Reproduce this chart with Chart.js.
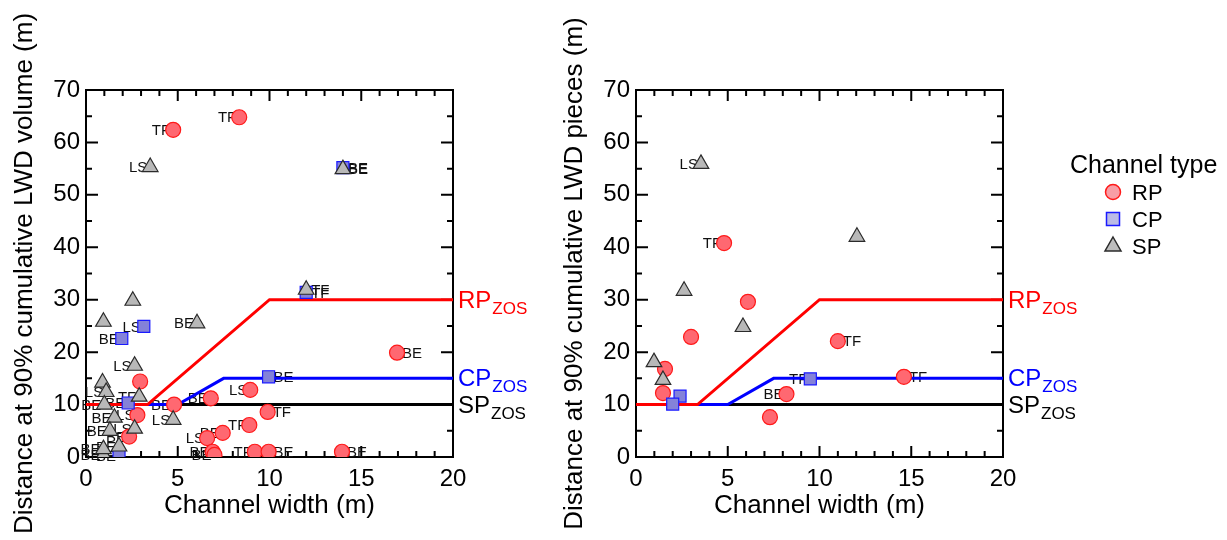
<!DOCTYPE html>
<html>
<head>
<meta charset="utf-8">
<script src="https://cdn.jsdelivr.net/npm/chart.js@4.4.1/dist/chart.umd.min.js"></script>
<style>
  body { margin: 0; background: #fff; }
  #wrap { position: relative; width: 1227px; height: 540px; }
  canvas { position: absolute; top: 0; }
  #volChart { left: 0; }
  #pcsChart { left: 550px; }
</style>
</head>
<body>
<div id="wrap">
  <canvas id="volChart" width="550" height="540"></canvas>
  <canvas id="pcsChart" width="677" height="540"></canvas>
</div>
<script>
// --- data: [channel width, distance, process tag, tag side] ---
const volRP = [
  [4.75, 62.4, 'TF', 'l'], [8.35, 64.8, 'TF', 'l'], [2.95, 14.4, '', ''],
  [2.8, 8.0, 'LS', 'l'], [4.8, 10.0, 'BE', 'l'], [2.35, 3.9, 'BE', 'l'],
  [6.8, 11.2, 'BE', 'l'], [8.95, 12.8, 'LS', 'l'], [9.9, 8.6, 'TF', 'r'],
  [8.9, 6.1, 'TF', 'l'], [7.45, 4.6, 'BE', 'l'], [6.6, 3.6, 'LS', 'l'],
  [6.9, 1.0, 'BE', 'l'], [7.0, 0.4, 'BE', 'l'], [9.2, 1.0, 'TF', 'l'],
  [9.95, 1.0, 'BE', 'r'], [13.95, 1.0, 'BE', 'r'], [16.95, 19.9, 'BE', 'r']
];
const volCP = [
  [1.95, 22.6, 'BE', 'l'], [3.15, 24.9, 'LS', 'l'], [2.3, 10.3, 'BE', 'l'],
  [1.8, 0.3, 'BE', 'l'], [9.95, 15.3, 'BE', 'r'], [14.0, 55.2, 'BE', 'r'],
  [12.0, 31.4, 'TF', 'r']
];
const volSP = [
  [3.5, 55.3, 'LS', 'l'], [14.0, 54.9, 'BE', 'r'], [12.0, 31.9, 'TF', 'r'],
  [2.55, 29.8, '', ''], [0.95, 25.8, '', ''], [6.05, 25.5, 'BE', 'l'],
  [2.65, 17.4, 'LS', 'l'], [0.9, 14.2, '', ''], [1.1, 12.4, 'LS', 'l'],
  [2.9, 11.5, 'TF', 'l'], [4.75, 7.1, 'LS', 'l'], [1.55, 7.5, 'BE', 'l'],
  [1.0, 10.0, 'BE', 'l'], [2.65, 5.4, 'LS', 'l'], [1.3, 5.0, 'BE', 'l'],
  [1.8, 2.0, 'BE', 'l'], [0.95, 0.4, 'BE', 'l'], [0.95, 1.5, 'BE', 'l']
];

const pcsRP = [
  [4.8, 40.8, 'TF', 'l'], [6.1, 29.6, '', ''], [3.0, 22.9, '', ''],
  [11.0, 22.1, 'TF', 'r'], [1.58, 16.8, '', ''], [1.47, 12.2, '', ''],
  [8.2, 12.0, 'BE', 'l'], [14.6, 15.3, 'TF', 'r'], [7.3, 7.6, '', '']
];
const pcsCP = [
  [2.4, 11.6, '', ''], [2.0, 10.1, '', ''], [9.5, 14.9, 'TF', 'l']
];
const pcsSP = [
  [3.54, 55.9, 'LS', 'l'], [12.04, 42.0, '', ''], [2.62, 31.7, '', ''],
  [5.83, 24.8, '', ''], [0.98, 18.1, '', ''], [1.47, 14.7, '', '']
];

// zone of significance lines (same on both panels)
const zosRP = [[0, 10], [3.35, 10], [10, 30], [20, 30]];
const zosCP = [[0, 10], [5, 10], [7.5, 15], [20, 15]];
const zosSP = [[0, 10], [20, 10]];

const xTickLabels = [0, 5, 10, 15, 20];
const yTickLabels = [0, 10, 20, 30, 40, 50, 60, 70];
const channelTypes = ['RP', 'CP', 'SP'];

const FONT = '"Liberation Sans", Arial, Helvetica, sans-serif';

// --- helpers ---
function pts(rows) {
  return rows.map(r => ({ x: r[0], y: r[1] }));
}

function pointSet(rows, type) {
  const styles = {
    RP: { pointStyle: 'circle', pointRadius: 7.5, backgroundColor: '#ff6871', borderColor: '#ff1a1a' },
    CP: { pointStyle: 'rect', pointRadius: 8.5, backgroundColor: '#8482d9', borderColor: '#1a1aff' },
    SP: { pointStyle: 'triangle', pointRadius: 9, backgroundColor: '#b8b8b8', borderColor: '#2b2b2b' }
  };
  const s = styles[type];
  return {
    type: 'scatter',
    data: pts(rows),
    tags: rows.map(r => r[2]),
    sides: rows.map(r => r[3]),
    pointStyle: s.pointStyle,
    pointRadius: s.pointRadius,
    pointBackgroundColor: s.backgroundColor,
    pointBorderColor: s.borderColor,
    pointBorderWidth: 1.2,
    showLine: false
  };
}

function zosSet(rows, color, name) {
  return {
    type: 'line',
    data: pts(rows),
    zos: name,
    borderColor: color,
    borderWidth: 3,
    pointRadius: 0,
    tension: 0,
    fill: false
  };
}

// process tags next to points, drawn under the markers
const pointTags = {
  id: 'pointTags',
  beforeDatasetsDraw(chart) {
    const ctx = chart.ctx;
    ctx.save();
    ctx.font = '15px ' + FONT;
    ctx.fillStyle = '#111';
    ctx.textBaseline = 'middle';
    chart.data.datasets.forEach((ds, i) => {
      if (!ds.tags) return;
      chart.getDatasetMeta(i).data.forEach((el, j) => {
        const t = ds.tags[j];
        if (!t) return;
        if (ds.sides[j] === 'r') {
          ctx.textAlign = 'left';
          ctx.fillText(t, el.x + 5, el.y + 1);
        } else {
          ctx.textAlign = 'right';
          ctx.fillText(t, el.x - 3, el.y + 1);
        }
      });
    });
    ctx.restore();
  }
};

// box with inward ticks on all four sides
const frameTicks = {
  id: 'frameTicks',
  beforeDatasetsDraw(chart) {
    const { ctx, chartArea: a, scales: { x, y } } = chart;
    ctx.save();
    ctx.strokeStyle = '#000';
    ctx.lineWidth = 2;
    ctx.strokeRect(a.left, a.top, a.right - a.left, a.bottom - a.top);
    ctx.beginPath();
    for (let v = 0; v <= 20; v++) {
      const px = x.getPixelForValue(v);
      const len = v % 5 === 0 ? 11 : 6;
      ctx.moveTo(px, a.bottom); ctx.lineTo(px, a.bottom - len);
      ctx.moveTo(px, a.top); ctx.lineTo(px, a.top + len);
    }
    for (let v = 0; v <= 70; v += 5) {
      const py = y.getPixelForValue(v);
      const len = v % 10 === 0 ? 12 : 6;
      ctx.moveTo(a.left, py); ctx.lineTo(a.left + len, py);
      ctx.moveTo(a.right, py); ctx.lineTo(a.right - len, py);
    }
    ctx.stroke();
    ctx.restore();
  },
  afterDraw(chart) {
    // ZOS labels at the right end of each line
    const { ctx, chartArea: a, scales: { y } } = chart;
    ctx.save();
    ctx.textBaseline = 'alphabetic';
    ctx.textAlign = 'left';
    chart.data.datasets.forEach(ds => {
      if (!ds.zos) return;
      const last = ds.data[ds.data.length - 1];
      const py = y.getPixelForValue(last.y) + 8;
      ctx.fillStyle = ds.borderColor;
      ctx.font = '24px ' + FONT;
      const x0 = a.right + 5;
      ctx.fillText(ds.zos, x0, py);
      const w = ctx.measureText(ds.zos).width;
      ctx.font = '17px ' + FONT;
      ctx.fillText('ZOS', x0 + w + 1, py + 6);
    });
    ctx.restore();
  }
};

// legend for the right panel
const typeLegend = {
  id: 'typeLegend',
  afterDraw(chart) {
    if (!chart.options.plugins.typeLegend) return;
    const ctx = chart.ctx;
    const lx = 520, mx = 563, tx = 582;
    ctx.save();
    ctx.fillStyle = '#000';
    ctx.textAlign = 'left';
    ctx.textBaseline = 'alphabetic';
    ctx.font = '25px ' + FONT;
    ctx.fillText('Channel type', lx, 173);
    const rowsY = [192, 219, 246];
    ctx.font = '22px ' + FONT;
    channelTypes.forEach((name, i) => {
      const cy = rowsY[i];
      ctx.lineWidth = 1.5;
      ctx.beginPath();
      if (name === 'RP') {
        ctx.fillStyle = '#f89ea6'; ctx.strokeStyle = '#ff1a1a';
        ctx.arc(mx, cy, 7.5, 0, Math.PI * 2);
      } else if (name === 'CP') {
        ctx.fillStyle = '#bbbbe6'; ctx.strokeStyle = '#1a1aff';
        ctx.rect(mx - 6.5, cy - 6.5, 13, 13);
      } else {
        ctx.fillStyle = '#bdbdbd'; ctx.strokeStyle = '#2b2b2b';
        ctx.moveTo(mx, cy - 9); ctx.lineTo(mx + 8, cy + 5); ctx.lineTo(mx - 8, cy + 5); ctx.closePath();
      }
      ctx.fill();
      ctx.stroke();
      ctx.fillStyle = '#000';
      ctx.fillText(name, tx, cy + 8);
    });
    ctx.restore();
  }
};

function makeChart(id, rp, cp, sp, yTitle, rightPad, showLegend) {
  const ctx = document.getElementById(id).getContext('2d');
  return new Chart(ctx, {
    type: 'scatter',
    data: {
      datasets: [
        pointSet(sp, 'SP'),
        pointSet(cp, 'CP'),
        pointSet(rp, 'RP'),
        zosSet(zosRP, '#ff0000', 'RP'),
        zosSet(zosCP, '#0000ff', 'CP'),
        zosSet(zosSP, '#000000', 'SP')
      ]
    },
    options: {
      responsive: false,
      animation: false,
      events: [],
      layout: { padding: { left: 9, top: 90, right: rightPad, bottom: 19 } },
      plugins: {
        legend: { display: false },
        tooltip: { enabled: false },
        typeLegend: showLegend
      },
      scales: {
        x: {
          type: 'linear',
          min: 0, max: 20,
          afterBuildTicks(s) { s.ticks = xTickLabels.map(v => ({ value: v })); },
          afterFit(s) { s.height = 64; },
          grid: { display: false, drawTicks: false },
          border: { display: false },
          ticks: { color: '#000', font: { size: 24, family: FONT }, padding: 8, maxRotation: 0 },
          title: { display: true, text: 'Channel width (m)', color: '#000', font: { size: 26, family: FONT }, padding: { top: 0, bottom: 0 } }
        },
        y: {
          type: 'linear',
          min: 0, max: 70,
          afterBuildTicks(s) { s.ticks = yTickLabels.map(v => ({ value: v })); },
          afterFit(s) { s.width = 77; },
          grid: { display: false, drawTicks: false },
          border: { display: false },
          ticks: { color: '#000', font: { size: 24, family: FONT }, padding: 6 },
          title: { display: true, text: yTitle, color: '#000', font: { size: 26, family: FONT }, padding: { top: 0, bottom: 0 } }
        }
      }
    },
    plugins: [frameTicks, pointTags, typeLegend]
  });
}

makeChart('volChart', volRP, volCP, volSP, 'Distance at 90% cumulative LWD volume (m)', 97, false);
makeChart('pcsChart', pcsRP, pcsCP, pcsSP, 'Distance at 90% cumulative LWD pieces (m)', 224, true);
</script>
</body>
</html>
